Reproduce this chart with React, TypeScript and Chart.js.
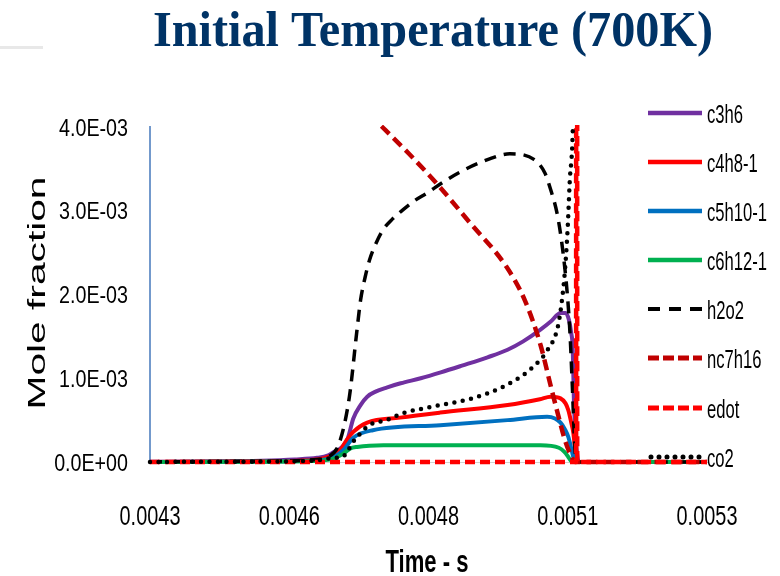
import React, { useEffect, useRef } from "react";
import { Chart, registerables } from "chart.js";

Chart.register(...registerables);

// Axis ticks (values and printed labels)
const xTickValues = [0.0043, 0.00455, 0.0048, 0.00505, 0.0053];
const xTickLabels = ["0.0043", "0.0046", "0.0048", "0.0051", "0.0053"];
const yTickValues = [0, 0.001, 0.002, 0.003, 0.004];
const yTickLabels = ["0.0E+00", "1.0E-03", "2.0E-03", "3.0E-03", "4.0E-03"];

// Species histories: time (s) and mole fraction
const c3h6Time = [0.0043, 0.0044, 0.0045, 0.00456, 0.0046, 0.00462, 0.00463, 0.004645, 0.004655, 0.004665, 0.004678, 0.00469, 0.004705, 0.004726, 0.00475, 0.004786, 0.004822, 0.00486, 0.004906, 0.004942, 0.00497, 0.005001, 0.00502, 0.005037, 0.005046, 0.005052, 0.005056, 0.005059, 0.005061, 0.005064, 0.005066, 0.00507, 0.0053];
const c3h6Values = [2e-6, 6e-6, 1.5e-5, 3e-5, 5e-5, 8e-5, 1.2e-4, 1.8e-4, 2.8e-4, 5.2e-4, 6.8e-4, 7.8e-4, 8.4e-4, 8.9e-4, 9.4e-4, 1.0e-3, 1.07e-3, 1.15e-3, 1.25e-3, 1.34e-3, 1.44e-3, 1.58e-3, 1.68e-3, 1.78e-3, 1.78e-3, 1.7e-3, 1.55e-3, 1.34e-3, 7.4e-4, 3.0e-4, 1.4e-4, 0, 0];

const c4h8Time = [0.0043, 0.0045, 0.0046, 0.00462, 0.004641, 0.004652, 0.004665, 0.00469, 0.004749, 0.004821, 0.004942, 0.005, 0.005019, 0.005037, 0.005046, 0.005051, 0.005056, 0.00506, 0.005064, 0.005067, 0.0053];
const c4h8Values = [1e-6, 8e-6, 3e-5, 6e-5, 1.4e-4, 2.5e-4, 3.6e-4, 4.7e-4, 5.3e-4, 5.9e-4, 6.8e-4, 7.5e-4, 7.8e-4, 7.6e-4, 7.0e-4, 6.2e-4, 4.8e-4, 3.5e-4, 1.0e-4, 0, 0];

const c5h10Time = [0.0043, 0.0045, 0.0046, 0.00463, 0.004647, 0.004665, 0.0047, 0.004821, 0.004942, 0.005013, 0.005027, 0.005037, 0.005045, 0.005051, 0.005056, 0.00506, 0.005063, 0.0053];
const c5h10Values = [1e-6, 5e-6, 2e-5, 6e-5, 1.4e-4, 2.9e-4, 3.8e-4, 4.4e-4, 5.0e-4, 5.4e-4, 5.2e-4, 4.7e-4, 3.9e-4, 3.0e-4, 1.7e-4, 6e-5, 0, 0];

const c6h12Time = [0.0043, 0.0045, 0.0046, 0.00463, 0.004647, 0.004659, 0.004672, 0.004719, 0.004821, 0.005001, 0.005034, 0.005044, 0.005051, 0.005055, 0.005058, 0.0053];
const c6h12Values = [1e-6, 4e-6, 1.5e-5, 4e-5, 1.0e-4, 1.6e-4, 1.8e-4, 2.0e-4, 2.0e-4, 2.0e-4, 1.7e-4, 1.2e-4, 6e-5, 2e-5, 0, 0];

const h2o2Time = [0.0043, 0.0045, 0.0046, 0.00462, 0.00464, 0.004658, 0.004671, 0.004678, 0.004686, 0.004694, 0.004705, 0.004718, 0.004735, 0.004754, 0.004775, 0.004797, 0.004826, 0.004856, 0.004906, 0.004946, 0.00499, 0.005009, 0.005018, 0.005032, 0.005041, 0.005049, 0.005054, 0.005058, 0.005063, 0.005066, 0.0053];
const h2o2Values = [1e-6, 1e-5, 3e-5, 6e-5, 2.3e-4, 7.8e-4, 1.54e-3, 1.93e-3, 2.2e-3, 2.41e-3, 2.6e-3, 2.77e-3, 2.9e-3, 3.01e-3, 3.12e-3, 3.21e-3, 3.34e-3, 3.46e-3, 3.61e-3, 3.68e-3, 3.61e-3, 3.45e-3, 3.28e-3, 2.93e-3, 2.53e-3, 2.02e-3, 1.54e-3, 9.4e-4, 1.4e-4, 0, 0];

const nc7h16Time = [0.0043, 0.0045, 0.0046, 0.00466, 0.004717, 0.004765, 0.004814, 0.004874, 0.00494, 0.004973, 0.005001, 0.005019, 0.005032, 0.005045, 0.005057, 0.005063, 0.0053];
const nc7h16Values = [6.7e-3, 5.4e-3, 4.76e-3, 4.37e-3, 4.0e-3, 3.68e-3, 3.33e-3, 2.86e-3, 2.33e-3, 1.93e-3, 1.4e-3, 9.2e-4, 5.8e-4, 2.6e-4, 6e-5, 0, 0];

const edotTime = [0.0043, 0.005065, 0.005066, 0.005067, 0.0053];
const edotValues = [0, 0, 0.35, 0, 0];

const co2Time = [0.0043, 0.0045, 0.0046, 0.00463, 0.004645, 0.004667, 0.004694, 0.004724, 0.004753, 0.004814, 0.004879, 0.00494, 0.004987, 0.005014, 0.005032, 0.005039, 0.005045, 0.00505, 0.005054, 0.005059, 0.005062, 0.005065, 0.0053];
const co2Values = [1e-6, 5e-6, 2e-5, 5e-5, 6e-5, 2.6e-4, 4.4e-4, 5.0e-4, 5.8e-4, 6.7e-4, 7.6e-4, 9.2e-4, 1.13e-3, 1.34e-3, 1.61e-3, 1.9e-3, 2.29e-3, 2.81e-3, 3.4e-3, 3.96e-3, 6.0e-3, 2.0e-2, 6.0e-2];

const seriesNames = ["c3h6", "c4h8-1", "c5h10-1", "c6h12-1", "h2o2", "nc7h16", "edot", "co2"];

const chartTitle = "Initial Temperature (700K)";
const xTitle = "Time - s";
const yTitle = "Mole fraction";

type Style = { color: string; width: number; dash: number[]; cap: CanvasLineCap; legendDash: number[] };

const series: { t: number[]; v: number[]; style: Style }[] = [
  { t: c3h6Time, v: c3h6Values, style: { color: "#7030a0", width: 4, dash: [], cap: "butt", legendDash: [] } },
  { t: c4h8Time, v: c4h8Values, style: { color: "#ff0000", width: 4, dash: [], cap: "butt", legendDash: [] } },
  { t: c5h10Time, v: c5h10Values, style: { color: "#0070c0", width: 4, dash: [], cap: "butt", legendDash: [] } },
  { t: c6h12Time, v: c6h12Values, style: { color: "#00b050", width: 4, dash: [], cap: "butt", legendDash: [] } },
  { t: h2o2Time, v: h2o2Values, style: { color: "#000000", width: 3.5, dash: [12, 8], cap: "butt", legendDash: [12, 9] } },
  { t: nc7h16Time, v: nc7h16Values, style: { color: "#c00000", width: 4.5, dash: [11, 6], cap: "butt", legendDash: [11, 4] } },
  { t: edotTime, v: edotValues, style: { color: "#ff0000", width: 4.5, dash: [10, 5], cap: "butt", legendDash: [11, 4] } },
  { t: co2Time, v: co2Values, style: { color: "#000000", width: 4.5, dash: [0, 8.5], cap: "round", legendDash: [0, 8] } },
];

const SANS = '"Liberation Sans", Arial, sans-serif';

// Text drawn with an independent horizontal / vertical stretch
function stretchedText(
  ctx: CanvasRenderingContext2D,
  text: string,
  x: number,
  y: number,
  font: string,
  color: string,
  opts: { align?: CanvasTextAlign; width?: number; sx?: number; sy?: number; rotate?: number }
) {
  ctx.save();
  ctx.font = font;
  ctx.fillStyle = color;
  ctx.textAlign = opts.align || "left";
  ctx.textBaseline = "alphabetic";
  ctx.translate(x, y);
  if (opts.rotate) ctx.rotate(opts.rotate);
  const w = ctx.measureText(text).width;
  const sx = opts.width ? opts.width / w : opts.sx || 1;
  ctx.scale(sx, opts.sy || 1);
  ctx.fillText(text, 0, 0);
  ctx.restore();
}

const decorations = {
  id: "decorations",
  afterDraw(chart: any) {
    const ctx: CanvasRenderingContext2D = chart.ctx;
    const xs = chart.scales.x;
    const ys = chart.scales.y;

    // faint rule at the top-left
    ctx.save();
    ctx.fillStyle = "#e8e8e8";
    ctx.fillRect(0, 46, 43, 3);
    ctx.restore();

    stretchedText(ctx, chartTitle, 153, 46, 'bold 50px "Liberation Serif", serif', "#003366", { width: 560 });
    stretchedText(ctx, xTitle, 427, 572, `bold 32px ${SANS}`, "#000000", { align: "center", width: 83 });
    stretchedText(ctx, yTitle, 45, 293, `23px ${SANS}`, "#000000", {
      align: "center",
      width: 233,
      rotate: -Math.PI / 2,
    });

    // tick labels, placed by the scales
    xTickValues.forEach((v, i) => {
      stretchedText(ctx, xTickLabels[i], xs.getPixelForValue(v), 525, `24px ${SANS}`, "#000000", {
        align: "center",
        sx: 0.83,
        sy: 1.12,
      });
    });
    yTickValues.forEach((v, i) => {
      stretchedText(ctx, yTickLabels[i], 128, ys.getPixelForValue(v) + 8.5, `24px ${SANS}`, "#000000", {
        align: "right",
        sx: 0.82,
      });
    });

    // legend
    const legendY = [113, 162, 211, 260, 309, 358, 408, 457];
    series.forEach((s, i) => {
      const y = legendY[i];
      ctx.save();
      ctx.strokeStyle = s.style.color;
      ctx.lineWidth = s.style.width + 0.5;
      ctx.lineCap = s.style.cap === "round" ? "round" : "butt";
      ctx.setLineDash(s.style.legendDash);
      ctx.beginPath();
      ctx.moveTo(s.style.cap === "round" ? 651 : 648, y);
      ctx.lineTo(702, y);
      ctx.stroke();
      ctx.restore();
      stretchedText(ctx, seriesNames[i], 707, y + 9.5, `20px ${SANS}`, "#000000", { sx: 0.83, sy: 1.25 });
    });
  },
};

export default function App() {
  const canvasRef = useRef<HTMLCanvasElement | null>(null);

  useEffect(() => {
    document.body.style.margin = "0";
    const canvas = canvasRef.current;
    if (!canvas) return;

    const chart = new Chart(canvas, {
      type: "line",
      data: {
        datasets: series.map((s, i) => ({
          label: seriesNames[i],
          data: s.t.map((t, k) => ({ x: t, y: s.v[k] })),
          borderColor: s.style.color,
          backgroundColor: s.style.color,
          borderWidth: s.style.width,
          borderDash: s.style.dash,
          borderCapStyle: s.style.cap,
          borderJoinStyle: "round",
          cubicInterpolationMode: "monotone",
          pointRadius: 0,
          fill: false,
          clip: { left: 3, right: 3, top: 2, bottom: 5 },
          order: series.length - i,
        })),
      },
      options: {
        animation: false,
        responsive: false,
        devicePixelRatio: 1,
        layout: { padding: { top: 127, right: 73, left: 0, bottom: 0 } },
        plugins: {
          legend: { display: false },
          tooltip: { enabled: false },
          title: { display: false },
        },
        scales: {
          x: {
            type: "linear",
            min: xTickValues[0],
            max: xTickValues[xTickValues.length - 1],
            afterBuildTicks: (scale: any) => {
              scale.ticks = xTickValues.map((v) => ({ value: v }));
            },
            afterFit: (scale: any) => {
              scale.height = 114;
            },
            ticks: { display: false },
            grid: { display: false, drawTicks: false },
            border: { display: true, color: "#d0d0d0", width: 1 },
          },
          y: {
            type: "linear",
            min: yTickValues[0],
            max: yTickValues[yTickValues.length - 1],
            afterBuildTicks: (scale: any) => {
              scale.ticks = yTickValues.map((v) => ({ value: v }));
            },
            afterFit: (scale: any) => {
              scale.width = 150;
            },
            ticks: { display: false },
            grid: { display: false, drawTicks: false },
            border: { display: true, color: "#7399cc", width: 2 },
          },
        },
      },
      plugins: [decorations],
    });

    return () => chart.destroy();
  }, []);

  return (
    <div style={{ width: 780, height: 576, background: "#ffffff" }}>
      <canvas ref={canvasRef} width={780} height={576} style={{ display: "block" }} />
    </div>
  );
}
